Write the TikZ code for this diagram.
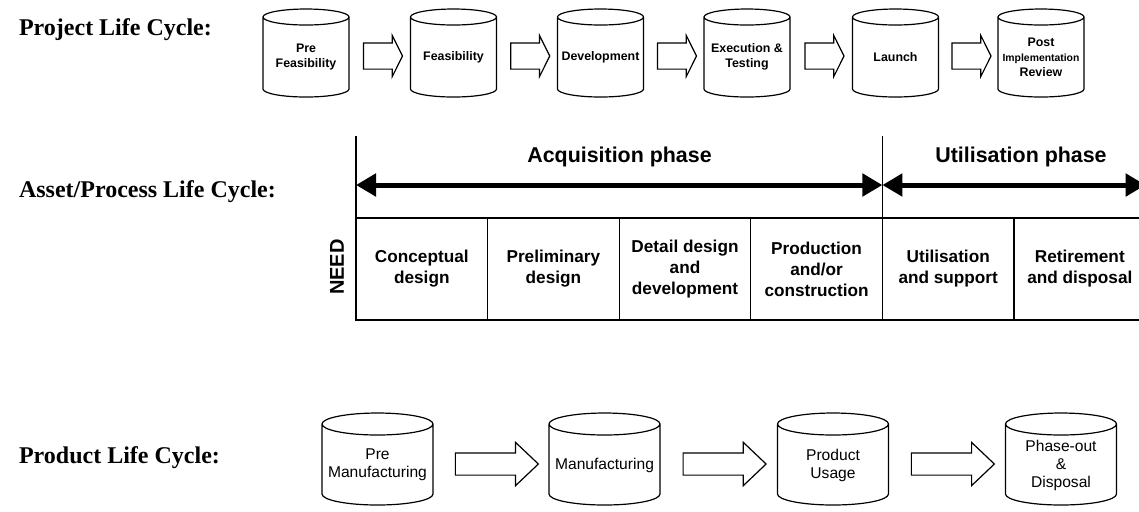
\documentclass[tikz,border=0pt]{standalone}
\usepackage{fontspec}
\setmainfont{Liberation Serif}
\setsansfont{Liberation Sans}
\usepackage{tikz}
\usetikzlibrary{arrows.meta,positioning,shapes.arrows,calc}

\tikzset{
  cylbox/.style={minimum width=43pt, minimum height=44pt, inner sep=1pt, outer sep=0pt, align=center, font=\sffamily\bfseries\fontsize{6.2}{7.6}\selectfont},
  drumbox/.style={minimum width=55.5pt, minimum height=46pt, inner sep=1pt, outer sep=0pt, align=center, font=\sffamily\fontsize{7.8}{9}\selectfont},
  drumline/.style={draw=black, line width=0.6pt},
  smallarrow/.style={draw, line width=0.6pt, single arrow, inner xsep=0pt, inner ysep=6.25pt, minimum height=19.5pt, single arrow head extend=3.75pt, single arrow tip angle=127},
  bigarrow/.style={draw, line width=0.6pt, single arrow, inner xsep=0pt, inner ysep=5.25pt, minimum height=41.5pt, single arrow head extend=5.25pt, single arrow tip angle=87},
  cyclelabel/.style={anchor=west, font=\bfseries\fontsize{12}{14}\selectfont},
  stagecell/.style={draw, line width=0.6pt, minimum width=65.8pt, minimum height=51pt, inner sep=1pt, outer sep=0pt, align=center, font=\sffamily\bfseries\fontsize{8.6}{10.5}\selectfont},
  phaseline/.style={line width=0.8pt},
  phasearrow/.style={line width=2.5pt, {Triangle[length=10pt,width=11pt]}-{Triangle[length=10pt,width=11pt]}},
  phaselabel/.style={font=\sffamily\bfseries\fontsize{10.7}{12}\selectfont}
}

\begin{document}
\begin{tikzpicture}[x=0.5pt, y=0.5pt]
  \useasboundingbox (0,0) rectangle (1139,-511);

  %--- Project life cycle ---
  \node[cyclelabel] (projlabel) at (12,-30) {Project Life Cycle:};

  \node[cylbox] (pre) at (306,-57) {Pre\\Feasibility};
  \node[cylbox] (feas) at (453.5,-57) {Feasibility};
  \node[cylbox] (dev) at (600.5,-57) {Development};
  \node[cylbox] (exec) at (747,-57) {Execution \&\\Testing};
  \node[cylbox] (launch) at (895.5,-57) {Launch};
  \node[cylbox] (post) at (1041,-57) {Post\\{\fontsize{5.2}{7.6}\selectfont Implementation}\\Review};

  \node[smallarrow] (pa1) at ([yshift=0.5pt]$(pre.east)!0.5!(feas.west)$) {};
  \node[smallarrow] (pa2) at ([yshift=0.5pt]$(feas.east)!0.5!(dev.west)$) {};
  \node[smallarrow] (pa3) at ([yshift=0.5pt]$(dev.east)!0.5!(exec.west)$) {};
  \node[smallarrow] (pa4) at ([yshift=0.5pt]$(exec.east)!0.5!(launch.west)$) {};
  \node[smallarrow] (pa5) at ([yshift=0.5pt]$(launch.east)!0.5!(post.west)$) {};

  %--- Asset/process life cycle ---
  \node[cyclelabel] (assetlabel) at (12,-192) {Asset/Process Life Cycle:};

  \node[stagecell] (concept) at (421.8,-269) {Conceptual\\design};
  \node[stagecell, right=0pt of concept] (prelim) {Preliminary\\design};
  \node[stagecell, right=0pt of prelim] (detail) {Detail design\\and\\development};
  \node[stagecell, right=0pt of detail] (prod) {Production\\and/or\\construction};
  \node[stagecell, right=0pt of prod] (util) {Utilisation\\and support};
  \node[stagecell, right=0pt of util] (retire) {Retirement\\and disposal};

  \node[rotate=90, font=\sffamily\bfseries\fontsize{10}{12}\selectfont] (need) at (337,-267) {NEED};

  \coordinate (acqtop) at ([yshift=41pt]concept.north west);
  \coordinate (utiltop) at ([yshift=41pt]util.north west);
  \coordinate (acqL) at ([yshift=16.5pt]concept.north west);
  \coordinate (acqR) at ([yshift=16.5pt]util.north west);
  \coordinate (utilR) at ([yshift=16.5pt]retire.north east);

  \draw[phaseline] (concept.south west) -- (acqtop);
  \draw[phaseline] (util.south west) -- (utiltop);
  \draw[phasearrow] (acqL) -- (acqR);
  \draw[phasearrow] (acqR) -- (utilR);

  \node[phaselabel] (acqlabel) at (619.5,-157) {Acquisition phase};
  \node[phaselabel] (utillabel) at (1021,-157) {Utilisation phase};

  %--- Product life cycle ---
  \node[cyclelabel] (prodlabel) at (12,-458) {Product Life Cycle:};

  \node[drumbox] (preman) at (377.5,-465) {Pre\\Manufacturing};
  \node[drumbox] (manuf) at (604.5,-465) {Manufacturing};
  \node[drumbox] (usage) at (833,-465) {Product\\Usage};
  \node[drumbox] (phaseout) at (1061,-465) {Phase-out\\\&\\Disposal};

  \node[bigarrow] (ba1) at ([yshift=0.5pt]$(preman.east)!0.5!(manuf.west)$) {};
  \node[bigarrow] (ba2) at ([yshift=0.5pt]$(manuf.east)!0.5!(usage.west)$) {};
  \node[bigarrow] (ba3) at ([yshift=0.5pt]$(usage.east)!0.5!(phaseout.west)$) {};

  % cylinder outlines (drawn a little above the text node)
  \foreach \n/\rx/\ry/\up in {pre/21.5pt/4pt/2pt, feas/21.5pt/4pt/2pt, dev/21.5pt/4pt/2pt, exec/21.5pt/4pt/2pt, launch/21.5pt/4pt/2pt, post/21.5pt/4pt/2pt,
                              preman/27.75pt/5.5pt/3pt, manuf/27.75pt/5.5pt/3pt, usage/27.75pt/5.5pt/3pt, phaseout/27.75pt/5.5pt/3pt}
    \draw[drumline] ([yshift=\up-\ry]\n.north west) -- ([yshift=\up+\ry]\n.south west)
      arc[start angle=180, end angle=360, x radius=\rx, y radius=\ry]
      -- ([yshift=\up-\ry]\n.north east)
      arc[start angle=0, end angle=180, x radius=\rx, y radius=\ry]
      arc[start angle=180, end angle=360, x radius=\rx, y radius=\ry];
\end{tikzpicture}
\end{document}
